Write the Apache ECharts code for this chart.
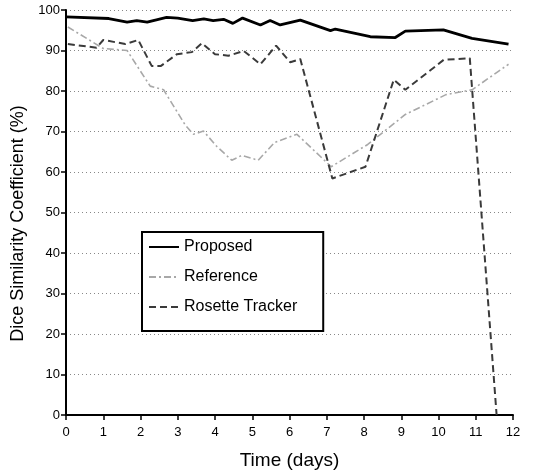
<!DOCTYPE html>
<html>
<head>
<meta charset="utf-8">
<script src="https://cdn.jsdelivr.net/npm/echarts@6/dist/echarts.min.js"></script>
<style>html,body{margin:0;padding:0;background:#fff}#c{width:537px;height:475px}</style>
</head>
<body>
<div id="c"></div>
<script>
const seriesNames = ['Proposed', 'Reference', 'Rosette Tracker'];
const xTicks = [0,1,2,3,4,5,6,7,8,9,10,11,12];
const yTicks = [0,10,20,30,40,50,60,70,80,90,100];

const proposedT = [0.0, 1.15, 1.64, 1.9, 2.18, 2.7, 3.0, 3.4, 3.7, 3.95, 4.23, 4.48, 4.74, 5.22, 5.48, 5.75, 6.29, 7.1, 7.23, 8.17, 8.84, 9.11, 10.13, 10.9, 11.88];
const proposedV = [98.3, 97.9, 97.0, 97.4, 97.0, 98.2, 98.0, 97.4, 97.8, 97.4, 97.7, 96.7, 98.0, 96.3, 97.4, 96.3, 97.5, 94.9, 95.3, 93.4, 93.2, 94.8, 95.1, 93.0, 91.6];

const referenceT = [0.05, 1.0, 1.64, 2.26, 2.62, 3.2, 3.42, 3.69, 4.05, 4.45, 4.72, 5.16, 5.6, 6.2, 7.12, 8.1, 9.11, 10.2, 10.9, 11.88];
const referenceV = [95.8, 90.5, 90.0, 81.2, 80.3, 71.6, 69.3, 70.1, 66.3, 62.9, 64.1, 62.9, 67.3, 69.3, 61.3, 66.8, 74.2, 79.1, 80.3, 86.6];

const rosetteT = [0.05, 0.82, 1.0, 1.59, 1.94, 2.3, 2.55, 2.98, 3.38, 3.65, 4.0, 4.36, 4.77, 5.22, 5.64, 6.02, 6.29, 7.15, 8.04, 8.8, 9.11, 10.14, 10.84, 11.56];
const rosetteV = [91.6, 90.7, 92.6, 91.6, 92.6, 86.2, 86.2, 89.1, 89.6, 91.8, 89.1, 88.7, 89.9, 86.6, 91.2, 87.1, 87.9, 58.4, 61.3, 82.8, 80.3, 87.7, 88.1, 0.0];

function pairs(t, v) { return t.map((x, i) => [x, v[i]]); }

const FONT = 'Liberation Sans, Arial, Helvetica, sans-serif';
const chart = echarts.init(document.getElementById('c'), null, {renderer: 'canvas'});
chart.setOption({
  animation: false,
  backgroundColor: '#fff',
  grid: {left: 66, right: 24, top: 10, bottom: 58, containLabel: false},
  xAxis: {
    type: 'value', min: xTicks[0], max: xTicks[xTicks.length - 1], interval: 1,
    name: 'Time (days)', nameLocation: 'middle', nameGap: 36,
    nameTextStyle: {fontFamily: FONT, fontSize: 19, color: '#000'},
    axisLine: {show: true, onZero: false, lineStyle: {color: '#000', width: 2}},
    axisTick: {show: true, length: 5, inside: false, lineStyle: {color: '#000', width: 1.5}},
    axisLabel: {fontFamily: FONT, fontSize: 13, color: '#000', margin: 11},
    splitLine: {show: false}
  },
  yAxis: {
    type: 'value', min: yTicks[0], max: yTicks[yTicks.length - 1], interval: 10,
    name: 'Dice Similarity Coefficient (%)', nameLocation: 'middle', nameGap: 38,
    nameTextStyle: {fontFamily: FONT, fontSize: 18, color: '#000', padding: [0, 22, 0, 0]},
    axisLine: {show: true, lineStyle: {color: '#000', width: 2}},
    axisTick: {show: true, length: 5, inside: false, lineStyle: {color: '#000', width: 1.5}},
    axisLabel: {fontFamily: FONT, fontSize: 13, color: '#000', margin: 6},
    splitLine: {show: true, lineStyle: {color: '#888', width: 1, type: [1, 3]}}
  },
  legend: {
    orient: 'vertical', left: 142, top: 232,
    data: seriesNames,
    itemWidth: 30, itemHeight: 14, itemGap: 14,
    padding: [7, 26, 16, 6],
    borderColor: '#000', borderWidth: 2, borderRadius: 0,
    backgroundColor: '#fff',
    itemStyle: {opacity: 0},
    textStyle: {fontFamily: FONT, fontSize: 16, color: '#000', padding: [0, 0, 0, 0]}
  },
  series: [
    {name: seriesNames[0], type: 'line', data: pairs(proposedT, proposedV), symbol: 'none', z: 5,
     lineStyle: {color: '#000', width: 2.8, type: 'solid'}, itemStyle: {color: '#000'}},
    {name: seriesNames[1], type: 'line', data: pairs(referenceT, referenceV), symbol: 'none', z: 3,
     lineStyle: {color: '#a8a8a8', width: 1.6, type: [7, 3, 2, 3]}, itemStyle: {color: '#a8a8a8'}},
    {name: seriesNames[2], type: 'line', data: pairs(rosetteT, rosetteV), symbol: 'none', z: 4,
     lineStyle: {color: '#3a3a3a', width: 2, type: [7, 4]}, itemStyle: {color: '#3a3a3a'}}
  ]
});
</script>
</body>
</html>
